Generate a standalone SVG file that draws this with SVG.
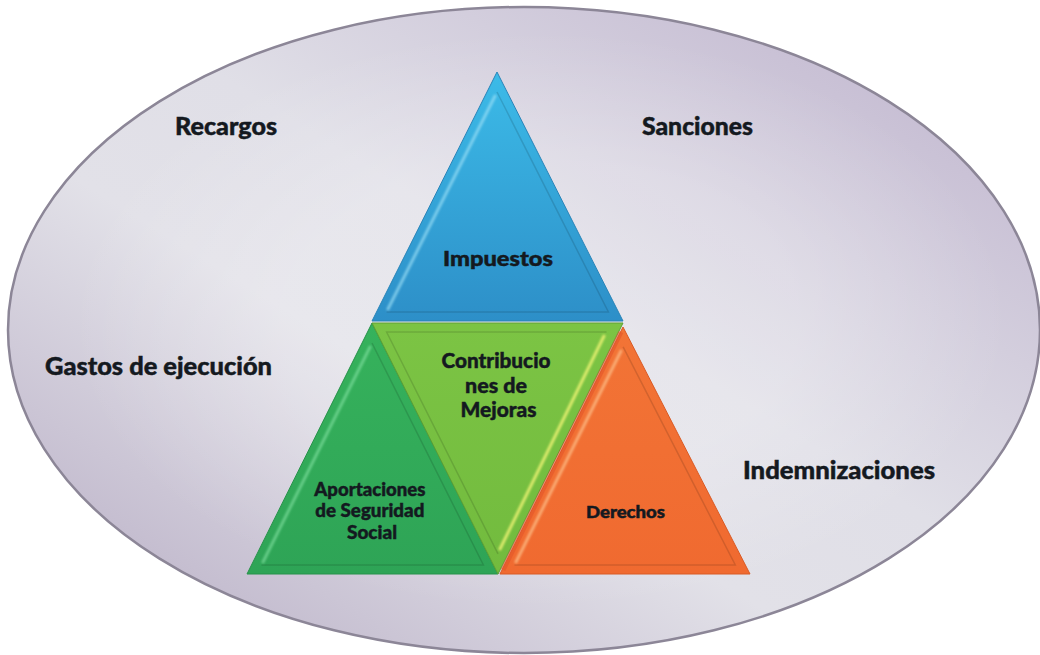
<svg xmlns="http://www.w3.org/2000/svg" width="1040" height="655" viewBox="0 0 1040 655">
  <defs>
    <linearGradient id="bgFill" x1="1" y1="0" x2="0" y2="1">
      <stop offset="0" stop-color="#bdb1cc"/>
      <stop offset="0.45" stop-color="#e0dfe7"/>
      <stop offset="0.6" stop-color="#e2e1e8"/>
      <stop offset="1" stop-color="#b4a9c2"/>
    </linearGradient>
    <radialGradient id="bgGlow" cx="0.5" cy="0.5" r="0.5">
      <stop offset="0.55" stop-color="#ffffff" stop-opacity="0.22"/>
      <stop offset="1" stop-color="#ffffff" stop-opacity="0"/>
    </radialGradient>
    <linearGradient id="blueFill" x1="0" y1="0" x2="0" y2="1">
      <stop offset="0" stop-color="#3cbbe8"/>
      <stop offset="1" stop-color="#2d8fc8"/>
    </linearGradient>
    <linearGradient id="limeFill" x1="0" y1="0" x2="0" y2="1">
      <stop offset="0" stop-color="#7cc444"/>
      <stop offset="1" stop-color="#72bb3e"/>
    </linearGradient>
    <linearGradient id="greenFill" x1="0" y1="0" x2="0" y2="1">
      <stop offset="0" stop-color="#36b25c"/>
      <stop offset="1" stop-color="#2ea456"/>
    </linearGradient>
    <linearGradient id="orangeFill" x1="0" y1="0" x2="0" y2="1">
      <stop offset="0" stop-color="#f27436"/>
      <stop offset="1" stop-color="#f06a30"/>
    </linearGradient>
    <filter id="soft" x="-10%" y="-10%" width="120%" height="120%">
      <feGaussianBlur stdDeviation="1.2"/>
    </filter>
  </defs>
  <style>
    .label { font-family: Lato, "Open Sans", "Liberation Sans", sans-serif; font-weight: 900; fill: #141920; stroke: #141920; stroke-width: 0.45; }
    .outer { font-size: 24px; }
    .inner { font-size: 21px; }
    .small { font-size: 18px; }
    .tiny { font-size: 16px; }
    .hi { fill: none; stroke-width: 3; stroke-linecap: round; filter: url(#soft); }
    .lo { fill: none; stroke: #000000; stroke-opacity: 0.13; stroke-width: 1.5; }
  </style>

  <!-- background ellipse -->
  <g id="ellipse">
    <ellipse cx="524" cy="330" rx="516" ry="323" fill="url(#bgFill)"/>
    <ellipse cx="540" cy="320" rx="470" ry="290" fill="url(#bgGlow)"/>
    <ellipse cx="524" cy="330" rx="516" ry="323" fill="none" stroke="#8c8697" stroke-width="2.5"/>
  </g>

  <!-- pyramid segments -->
  <g id="impuestos">
    <polygon points="497,72 372,321 623,321" fill="url(#blueFill)" stroke="#2a84b8" stroke-width="1"/>
    <polyline class="lo" points="497,92 608.4,312 386.6,312"/>
    <line class="hi" x1="495" y1="96" x2="388" y2="309" stroke="#9fe2f8" stroke-opacity="0.65"/>
    <text class="label inner" x="498" y="266" text-anchor="middle" textLength="110" lengthAdjust="spacingAndGlyphs">Impuestos</text>
  </g>

  <g id="aportaciones">
    <polygon points="372,323 247,574 498,574" fill="url(#greenFill)" stroke="#27924a" stroke-width="1"/>
    <polyline class="lo" points="372,343.1 483.4,565 261.5,565"/>
    <line class="hi" x1="370" y1="347" x2="263" y2="562" stroke="#7fe0a0" stroke-opacity="0.65"/>
    <text class="label small" text-anchor="middle" x="372">
      <tspan x="372" y="496" textLength="111" lengthAdjust="spacingAndGlyphs">Aportaciones</tspan>
      <tspan x="372" y="517" textLength="109" lengthAdjust="spacingAndGlyphs">de Seguridad</tspan>
      <tspan x="372" y="539" textLength="50" lengthAdjust="spacingAndGlyphs">Social</tspan>
    </text>
  </g>

  <g id="contribuciones">
    <polygon points="372,323 623,323 498,574" fill="url(#limeFill)" stroke="#5e9f34" stroke-width="1"/>
    <polyline class="lo" points="606.5,332 386.6,332 498,553.9"/>
    <line class="hi" x1="604" y1="336" x2="500" y2="549" stroke="#e6f070" stroke-opacity="0.9"/>
    <text class="label inner" text-anchor="middle" x="498">
      <tspan x="498.5" y="368" textLength="109" lengthAdjust="spacingAndGlyphs">Contribucio</tspan>
      <tspan x="498.5" y="393" textLength="62" lengthAdjust="spacingAndGlyphs">nes de</tspan>
      <tspan x="498.5" y="417" textLength="76" lengthAdjust="spacingAndGlyphs">Mejoras</tspan>
    </text>
  </g>

  <g id="derechos">
    <polygon points="623,327 500,574 750,574" fill="url(#orangeFill)" stroke="#d95a25" stroke-width="1"/>
    <line x1="621" y1="332" x2="503" y2="570" stroke="#e2552a" stroke-width="5" stroke-opacity="0.6"/>
    <polyline class="lo" points="623.1,346.9 735.3,565 514.5,565"/>
    <line class="hi" x1="621" y1="351" x2="516" y2="562" stroke="#fbb57e" stroke-opacity="0.85"/>
    <text class="label tiny" x="625.5" y="518" text-anchor="middle" textLength="79" lengthAdjust="spacingAndGlyphs">Derechos</text>
  </g>

  <!-- surrounding labels -->
  <g id="recargos">
    <text class="label outer" x="175" y="135" textLength="102" lengthAdjust="spacingAndGlyphs">Recargos</text>
  </g>
  <g id="sanciones">
    <text class="label outer" x="642" y="135" textLength="111" lengthAdjust="spacingAndGlyphs">Sanciones</text>
  </g>
  <g id="gastos">
    <text class="label outer" x="45" y="375" textLength="227" lengthAdjust="spacingAndGlyphs">Gastos de ejecución</text>
  </g>
  <g id="indemnizaciones">
    <text class="label outer" x="743" y="479" textLength="192" lengthAdjust="spacingAndGlyphs">Indemnizaciones</text>
  </g>

  <!-- no connectors in this figure -->
  <g id="connectors"/>
</svg>
